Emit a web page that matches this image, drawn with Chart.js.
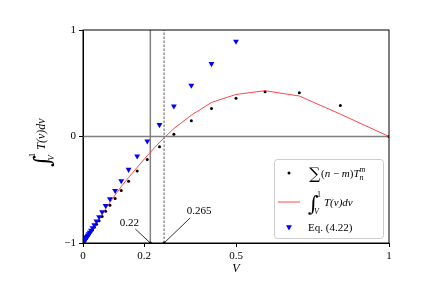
<!DOCTYPE html>
<html>
<head>
<meta charset="utf-8">
<script src="https://cdn.jsdelivr.net/npm/chart.js@4"></script>
<style>
  body { margin: 0; background: #fff; }
  canvas { display: block; }
</style>
</head>
<body>
<canvas id="grafico" width="445" height="306"></canvas>
<script>
// valores
const vValores = [1, 0.841, 0.707, 0.595, 0.5, 0.42, 0.354, 0.297, 0.25, 0.21, 0.177, 0.149, 0.125, 0.105, 0.088, 0.074, 0.0625, 0.0526, 0.0442, 0.0372, 0.0313, 0.0263, 0.0221, 0.0186, 0.0156, 0.0131, 0.011, 0.0093, 0.0078, 0.0066, 0.0055, 0.0046, 0.0039];
const somaValores = [0, 0.292, 0.411, 0.42, 0.36, 0.263, 0.147, 0.022, -0.097, -0.216, -0.323, -0.42, -0.508, -0.583, -0.646, -0.702, -0.752, -0.79, -0.825, -0.853, -0.877, -0.897, -0.914, -0.928, -0.94, -0.95, -0.958, -0.965, -0.97, -0.975, -0.979, -0.982, -0.985];
const integralValores = [0, 0.21, 0.38, 0.43, 0.395, 0.32, 0.2, 0.075, -0.055, -0.18, -0.29, -0.385, -0.47, -0.55, -0.62, -0.68, -0.73, -0.775, -0.81, -0.84, -0.865, -0.887, -0.905, -0.92, -0.933, -0.944, -0.953, -0.96, -0.966, -0.972, -0.976, -0.98, -0.983];
const eqValores = [null, null, null, null, 0.893, 0.683, 0.48, 0.285, 0.11, -0.044, -0.185, -0.31, -0.417, -0.508, -0.586, -0.649, -0.708, -0.755, -0.795, -0.83, -0.858, -0.881, -0.9, -0.916, -0.93, -0.941, -0.95, -0.958, -0.965, -0.97, -0.975, -0.979, -0.982];

const linhasV = [0.22, 0.265];
const rotulosV = ["0.22", "0.265"];
const xTicks = [0, 0.2, 0.5, 1];
const xTickRotulos = ["0", "0.2", "0.5", "1"];
const yTicks = [-1, 0, 1];
const yTickRotulos = ["\u22121", "0", "1"];

const SERIF = "'Liberation Serif', 'DejaVu Serif', serif";

function pares(ys) {
  return vValores.map((v, i) => ({ x: v, y: ys[i] })).filter((p) => p.y !== null);
}

// ∫_V^1 T(v)dv escrito à mão no canvas
function desenharIntegral(ctx, x, y, s) {
  const k = s / 11;
  ctx.fillStyle = "#000";
  ctx.textBaseline = "alphabetic";
  ctx.textAlign = "left";
  ctx.font = `italic ${21 * k}px 'DejaVu Serif', serif`;
  ctx.fillText("\u222B", x - 1 * k, y + 5 * k);
  ctx.font = `${8 * k}px ${SERIF}`;
  ctx.fillText("1", x + 8 * k, y - 9 * k);
  ctx.font = `italic ${8 * k}px ${SERIF}`;
  ctx.fillText("V", x + 5 * k, y + 8 * k);
  ctx.font = `italic ${s}px ${SERIF}`;
  ctx.fillText("T(v)dv", x + 15 * k, y);
}

function desenharSoma(ctx, x, y) {
  ctx.fillStyle = "#000";
  ctx.textBaseline = "alphabetic";
  ctx.textAlign = "left";
  ctx.font = `16px 'DejaVu Serif', serif`;
  ctx.fillText("\u2211", x, y + 2);
  let px = x + 12;
  const partes = ["(", "n", " \u2212 ", "m", ")", "T"];
  partes.forEach((p) => {
    ctx.font = (p === "n" || p === "m" || p === "T") ? `italic 11px ${SERIF}` : `11px ${SERIF}`;
    ctx.fillText(p, px, y);
    px += ctx.measureText(p).width;
  });
  ctx.font = `italic 8px ${SERIF}`;
  ctx.fillText("m", px, y - 5);
  ctx.fillText("n", px, y + 3);
}

function trianguloInvertido(ctx, x, y, r, cor) {
  ctx.save();
  ctx.fillStyle = cor;
  ctx.beginPath();
  ctx.moveTo(x, y + r);
  ctx.lineTo(x - r * 0.866, y - r * 0.5);
  ctx.lineTo(x + r * 0.866, y - r * 0.5);
  ctx.closePath();
  ctx.fill();
  ctx.restore();
}

const extras = {
  id: "extras",
  afterDatasetsDraw(chart) {
    const { ctx, chartArea: a, scales } = chart;
    ctx.save();
    // moldura
    ctx.strokeStyle = "#000";
    ctx.lineWidth = 1;
    ctx.strokeRect(a.left, a.top, a.right - a.left, a.bottom - a.top);

    // anotações com setas
    const yBase = scales.y.getPixelForValue(-1);
    const offsets = [
      { tx: -21, ty: -20, lx: -15, ly: -14 },
      { tx: 35, ty: -32, lx: 26, ly: -25 }
    ];
    ctx.font = `11px ${SERIF}`;
    ctx.textAlign = "center";
    ctx.textBaseline = "middle";
    linhasV.forEach((v, i) => {
      const px = scales.x.getPixelForValue(v);
      const o = offsets[i];
      ctx.fillStyle = "#000";
      ctx.fillText(rotulosV[i], px + o.tx, yBase + o.ty);
      ctx.strokeStyle = "#000";
      ctx.lineWidth = 0.8;
      ctx.beginPath();
      ctx.moveTo(px + o.lx, yBase + o.ly);
      ctx.lineTo(px, yBase);
      ctx.stroke();
    });

    // títulos dos eixos
    ctx.font = `italic 12px ${SERIF}`;
    ctx.textAlign = "center";
    ctx.textBaseline = "middle";
    ctx.fillText("V", (a.left + a.right) / 2, 269);

    ctx.save();
    ctx.translate(45, 166);
    ctx.rotate(-Math.PI / 2);
    desenharIntegral(ctx, 0, 0, 12);
    ctx.restore();

    // legenda
    const lw = 109, lh = 79;
    const lx = a.right - 6 - lw, ly = a.bottom - 5 - lh;
    ctx.fillStyle = "rgba(255,255,255,0.85)";
    ctx.strokeStyle = "#cccccc";
    ctx.lineWidth = 1;
    ctx.beginPath();
    ctx.roundRect(lx + 0.5, ly + 0.5, lw, lh, 3);
    ctx.fill();
    ctx.stroke();

    ctx.fillStyle = "#000";
    ctx.beginPath();
    ctx.arc(lx + 15, ly + 14, 1.5, 0, Math.PI * 2);
    ctx.fill();
    desenharSoma(ctx, lx + 35, ly + 18);

    ctx.strokeStyle = "rgb(255,70,70)";
    ctx.lineWidth = 1;
    ctx.beginPath();
    ctx.moveTo(lx + 4, ly + 43);
    ctx.lineTo(lx + 26, ly + 43);
    ctx.stroke();
    desenharIntegral(ctx, lx + 35, ly + 47, 11);

    trianguloInvertido(ctx, lx + 15, ly + 68, 3.4, "#0000ff");
    ctx.fillStyle = "#000";
    ctx.font = `11px ${SERIF}`;
    ctx.textAlign = "left";
    ctx.textBaseline = "middle";
    ctx.fillText("Eq. (4.22)", lx + 34, ly + 69);
    ctx.restore();
  }
};

new Chart(document.getElementById("grafico"), {
  type: "scatter",
  data: {
    datasets: [
      {
        label: "Eq. (4.22)",
        data: pares(eqValores),
        pointStyle: "triangle",
        rotation: 180,
        pointRadius: 3.4,
        backgroundColor: "#0000ff",
        borderWidth: 0,
        order: 0
      },
      {
        label: "integral",
        data: pares(integralValores),
        showLine: true,
        borderColor: "rgb(255,70,70)",
        borderWidth: 1,
        pointRadius: 0,
        order: 1
      },
      {
        label: "soma",
        data: pares(somaValores),
        pointRadius: 1.5,
        backgroundColor: "#000",
        borderWidth: 0,
        order: 2
      },
      {
        label: "marcas",
        data: linhasV.map((v) => ({ x: v, y: -1 })),
        pointRadius: 1.5,
        backgroundColor: "#000",
        borderWidth: 0,
        order: 2
      },
      {
        label: "zero",
        data: [{ x: 0, y: 0 }, { x: 1, y: 0 }],
        showLine: true,
        borderColor: "#808080",
        borderWidth: 1.5,
        pointRadius: 0,
        order: 5
      },
      {
        label: "v022",
        data: [{ x: linhasV[0], y: -1 }, { x: linhasV[0], y: 1 }],
        showLine: true,
        borderColor: "#808080",
        borderWidth: 1.5,
        pointRadius: 0,
        order: 5
      },
      {
        label: "v0265",
        data: [{ x: linhasV[1], y: -1 }, { x: linhasV[1], y: 1 }],
        showLine: true,
        borderColor: "#333",
        borderWidth: 0.8,
        borderDash: [2.5, 1.5],
        pointRadius: 0,
        order: 5
      }
    ]
  },
  options: {
    responsive: false,
    animation: false,
    layout: { padding: { top: 30, right: 56, left: 0, bottom: 0 } },
    plugins: { legend: { display: false }, tooltip: { enabled: false } },
    scales: {
      x: {
        type: "linear",
        min: 0,
        max: 1,
        afterBuildTicks: (s) => { s.ticks = xTicks.map((v) => ({ value: v })); },
        afterFit: (s) => { s.height = 63; },
        ticks: {
          autoSkip: false,
          maxRotation: 0,
          padding: 3,
          color: "#000",
          font: { family: SERIF, size: 11 },
          callback: (v) => xTickRotulos[xTicks.indexOf(v)]
        },
        grid: { drawOnChartArea: false, tickLength: 4, color: "#000" },
        border: { color: "#000", width: 1 }
      },
      y: {
        type: "linear",
        min: -1,
        max: 1,
        afterBuildTicks: (s) => { s.ticks = yTicks.map((v) => ({ value: v })); },
        afterFit: (s) => { s.width = 83; },
        ticks: {
          autoSkip: false,
          padding: 3,
          color: "#000",
          font: { family: SERIF, size: 11 },
          callback: (v) => yTickRotulos[yTicks.indexOf(v)]
        },
        grid: { drawOnChartArea: false, tickLength: 4, color: "#000" },
        border: { color: "#000", width: 1 }
      }
    }
  },
  plugins: [extras]
});
</script>
</body>
</html>
